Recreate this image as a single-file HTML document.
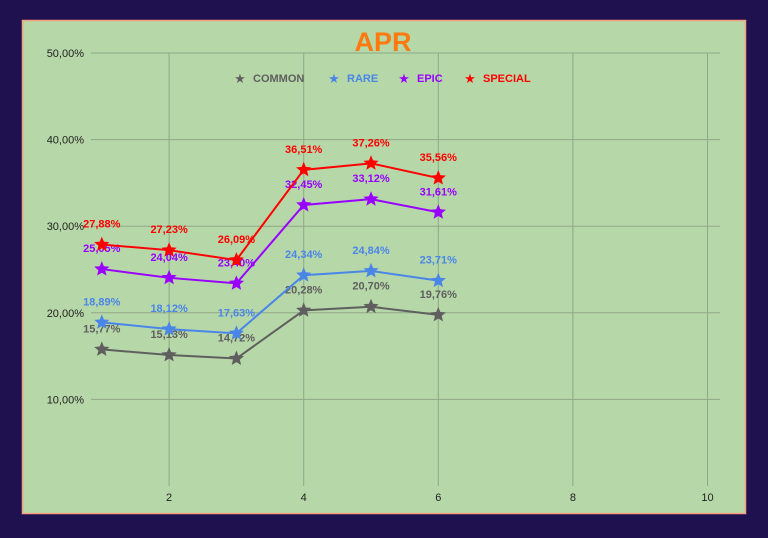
<!DOCTYPE html>
<html><head><meta charset="utf-8"><style>
html,body{margin:0;padding:0;background:#1f1150;}
svg{display:block;font-family:"Liberation Sans",Arial,sans-serif;}
</style></head><body>
<svg width="768" height="538" viewBox="0 0 768 538">
<rect x="0" y="0" width="768" height="538" fill="#1f1150"/>
<rect x="22.5" y="20.5" width="723" height="493" fill="#b6d7a8" stroke="#f4a07f" stroke-width="1.5"/>
<g id="grid"></g>
<text x="383" y="51" text-anchor="middle" font-size="27" font-weight="bold" fill="#ff7a0e">APR</text>
<g id="legend"></g>
<g id="series"></g>
</svg>
<script>
const xValues=[1,2,3,4,5,6];
const common=[15.77,15.13,14.72,20.28,20.70,19.76];
const rare=[18.89,18.12,17.63,24.34,24.84,23.71];
const epic=[25.05,24.04,23.40,32.45,33.12,31.61];
const special=[27.88,27.23,26.09,36.51,37.26,35.56];
const seriesNames=["COMMON","RARE","EPIC","SPECIAL"];
const yTicks=[10,20,30,40,50];
const xTicks=[2,4,6,8,10];
const colors=["#5f5f5f","#4a86e8","#9900ff","#ff0000"];
const NS="http://www.w3.org/2000/svg";
function xs(v){return 34.5+v*67.3;}
function ys(v){return 486-v*8.66;}
function mk(tag,attrs,parent){const e=document.createElementNS(NS,tag);for(const k in attrs)e.setAttribute(k,attrs[k]);parent.appendChild(e);return e;}
const grid=document.getElementById('grid');
yTicks.forEach(t=>{
 const l=mk('line',{x1:91,x2:720,y1:ys(t),y2:ys(t),stroke:'#8fa886','stroke-width':1},grid);
 
 
 const tx=mk('text',{x:84,y:ys(t)+4,'text-anchor':'end','font-size':11,fill:'#222'},grid);
 tx.textContent=t.toFixed(2).replace('.',',')+'%';
 
 
});
xTicks.forEach(t=>{
 const l=mk('line',{x1:xs(t),x2:xs(t),y1:53,y2:486,stroke:'#8fa886','stroke-width':1},grid);
 
 
 const tx=mk('text',{x:xs(t),y:501,'text-anchor':'middle','font-size':11,fill:'#222'},grid);
 tx.textContent=t;
 
 
});
const legend=document.getElementById('legend');
const legX=[240,334,404,470];
seriesNames.forEach((n,i)=>{
 const s=mk('text',{x:legX[i],y:83,'text-anchor':'middle','font-size':13,fill:colors[i]},legend);
 s.textContent='★';
 
 
 const t=mk('text',{x:legX[i]+13,y:82,'font-size':11,'font-weight':'bold',fill:colors[i]},legend);
 t.textContent=n;
 
 
});
function star(cx,cy,r){let p=[];for(let k=0;k<10;k++){const a=-Math.PI/2+k*Math.PI/5;const rr=k%2?r*0.45:r;p.push((cx+rr*Math.cos(a)).toFixed(1)+','+(cy+rr*Math.sin(a)).toFixed(1));}return p.join(' ');}
const sg=document.getElementById('series');
[common,rare,epic,special].forEach((arr,i)=>{
 const g=mk('g',{},sg);
 
 
 const pl=mk('polyline',{points:arr.map((v,j)=>xs(xValues[j])+','+ys(v)).join(' '),fill:'none',stroke:colors[i],'stroke-width':2},g);
 
 
 arr.forEach((v,j)=>{
  const p=mk('polygon',{points:star(xs(xValues[j]),ys(v),8),fill:colors[i]},g);
  
  
  const t=mk('text',{x:xs(xValues[j]),y:ys(v)-17,'text-anchor':'middle','font-size':11,'font-weight':'bold',fill:colors[i]},g);
  t.textContent=v.toFixed(2).replace('.',',')+'%';
  
  
 });
});
</script>
</body></html>
